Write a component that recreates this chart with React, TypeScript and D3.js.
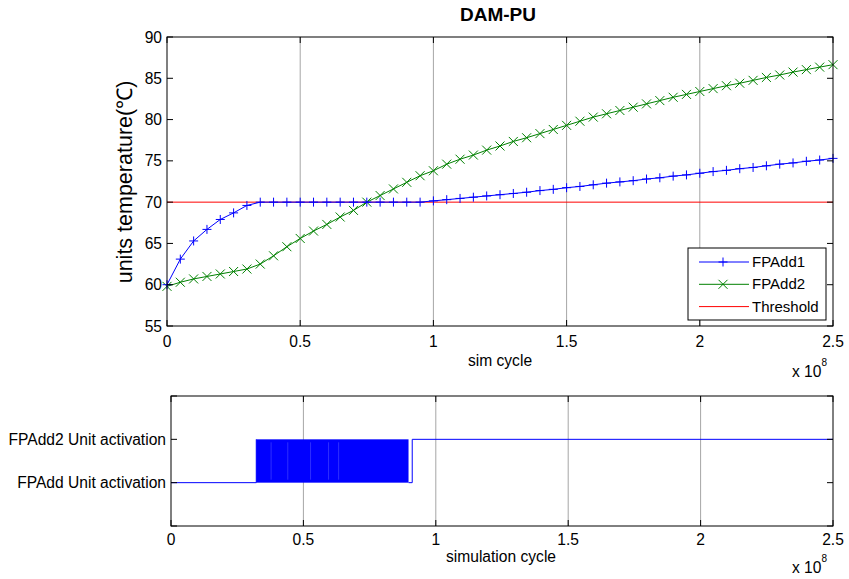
import React from "react";
import * as d3 from "d3";

// sampled every 0.05e8 cycles
const cycles = d3.range(51).map((i) => +(i * 0.05).toFixed(2));

const fpadd1 = [
  60.0, 63.1, 65.3, 66.7, 67.9, 68.7, 69.6, 70.0,
  70.0, 70.0, 70.0, 70.0, 70.0, 70.0, 70.0, 70.0, 70.0, 70.0, 70.0, 70.0,
  70.15, 70.3, 70.45, 70.6, 70.75, 70.9, 71.05, 71.2, 71.4, 71.55, 71.75,
  71.9, 72.1, 72.3, 72.45, 72.6, 72.8, 72.95, 73.15, 73.3, 73.5,
  73.7, 73.85, 74.05, 74.2, 74.4, 74.6, 74.75, 74.95, 75.1, 75.3,
];

const fpadd2 = [
  59.8, 60.3, 60.7, 61.0, 61.3, 61.6, 61.9, 62.5, 63.5, 64.6,
  65.6, 66.5, 67.3, 68.2, 69.0, 70.0, 70.8, 71.6, 72.4, 73.2,
  73.8, 74.6, 75.2, 75.7, 76.3, 76.8, 77.35, 77.8, 78.3, 78.8, 79.3,
  79.8, 80.3, 80.7, 81.1, 81.5, 81.9, 82.3, 82.7, 83.05, 83.4,
  83.75, 84.1, 84.4, 84.75, 85.1, 85.4, 85.75, 86.05, 86.35, 86.65,
];

const threshold = 70;

const xTicks = [0, 0.5, 1, 1.5, 2, 2.5];
const xGrid = [0.5, 1, 1.5, 2];
const yTicks = [55, 60, 65, 70, 75, 80, 85, 90];

// activation trace: 0 = FPAdd, 1 = FPAdd2
const activationLabels = ["FPAdd Unit activation", "FPAdd2 Unit activation"];
const activationTicks = [-1, 0, 1, 2];
const toggleStart = 0.322; // dense switching begins
const toggleEnd = 0.897; // dense switching ends
const toggleGaps = [0.378, 0.441, 0.527, 0.595, 0.633];
const lastSwitch = 0.911; // stays on FPAdd2 afterwards

const legendItems = [
  { name: "FPAdd1", color: "#0000ff", marker: "plus" },
  { name: "FPAdd2", color: "#008000", marker: "cross" },
  { name: "Threshold", color: "#ff0000", marker: "none" },
];

const font = "'Liberation Sans', Arial, sans-serif";
const FS = 15.6;
const TL = 6; // tick length

const Marker = ({ type, x, y, color }) => {
  const s = 4.5;
  if (type === "plus")
    return (
      <path d={`M${x - s},${y}H${x + s}M${x},${y - s}V${y + s}`} stroke={color} strokeWidth={1} />
    );
  if (type === "cross")
    return (
      <path
        d={`M${x - s},${y - s}L${x + s},${y + s}M${x - s},${y + s}L${x + s},${y - s}`}
        stroke={color}
        strokeWidth={1}
      />
    );
  return null;
};

const Exponent = ({ x, y }) => (
  <text x={x} y={y} fontSize={FS} fontFamily={font} textAnchor="end">
    x 10
    <tspan dy={-11} fontSize={10}>
      8
    </tspan>
  </text>
);

export default function App() {
  // top plot
  const x1 = d3.scaleLinear().domain([0, 2.5]).range([167, 833]);
  const y1 = d3.scaleLinear().domain([55, 90]).range([326, 37]);
  // bottom plot
  const x2 = d3.scaleLinear().domain([0, 2.5]).range([171, 833]);
  const y2 = d3.scaleLinear().domain([-1, 2]).range([526, 396]);

  const line1 = d3
    .line<number>()
    .x((_, i) => x1(cycles[i]))
    .y((d) => y1(d));

  const line2 = d3
    .line<[number, number]>()
    .x((d) => x2(d[0]))
    .y((d) => y2(d[1]));

  const stepPath = line2([
    [0, 0],
    [toggleStart, 0],
    [toggleStart, 1],
  ]);
  const tailPath = line2([
    [toggleEnd, 0],
    [lastSwitch, 0],
    [lastSwitch, 1],
    [2.5, 1],
  ]);

  return (
    <svg width={849} height={579} style={{ position: "absolute", left: 0, top: 0 }}>
      <rect width={849} height={579} fill="#fff" />

      {/* ---------- top plot ---------- */}
      <text x={498} y={21} fontSize={19} fontWeight="bold" fontFamily={font} textAnchor="middle">
        DAM-PU
      </text>
      {xGrid.map((t) => (
        <line key={t} x1={x1(t)} x2={x1(t)} y1={37} y2={326} stroke="#a6a6a6" />
      ))}
      <line x1={x1(0)} x2={x1(2.5)} y1={y1(threshold)} y2={y1(threshold)} stroke="#ff0000" />
      <path d={line1(fpadd2)} fill="none" stroke="#008000" />
      {fpadd2.map((v, i) => (
        <Marker key={i} type="cross" x={x1(cycles[i])} y={y1(v)} color="#008000" />
      ))}
      <path d={line1(fpadd1)} fill="none" stroke="#0000ff" />
      {fpadd1.map((v, i) => (
        <Marker key={i} type="plus" x={x1(cycles[i])} y={y1(v)} color="#0000ff" />
      ))}

      <rect x={167} y={37} width={666} height={289} fill="none" stroke="#000" />
      {yTicks.map((t) => (
        <g key={t}>
          <line x1={167} x2={167 + TL} y1={y1(t)} y2={y1(t)} stroke="#000" />
          <line x1={833} x2={833 - TL} y1={y1(t)} y2={y1(t)} stroke="#000" />
          <text x={162} y={y1(t) + 5.5} fontSize={FS} fontFamily={font} textAnchor="end">
            {t}
          </text>
        </g>
      ))}
      {xTicks.map((t) => (
        <g key={t}>
          <line x1={x1(t)} x2={x1(t)} y1={326} y2={326 - TL} stroke="#000" />
          <line x1={x1(t)} x2={x1(t)} y1={37} y2={37 + TL} stroke="#000" />
          <text x={x1(t)} y={347} fontSize={FS} fontFamily={font} textAnchor="middle">
            {t}
          </text>
        </g>
      ))}
      <text x={500} y={366} fontSize={FS} fontFamily={font} textAnchor="middle">
        sim cycle
      </text>
      <Exponent x={827} y={377} />
      <text
        transform="translate(132,182) rotate(-90)"
        fontSize={21.5}
        fontFamily={font}
        textAnchor="middle"
      >
        units temperature(℃)
      </text>

      {/* legend */}
      <rect x={688} y={248} width={138} height={72} fill="#fff" stroke="#000" />
      {legendItems.map((d, i) => {
        const ly = 262 + i * 22.3;
        return (
          <g key={d.name}>
            <line x1={699} x2={749} y1={ly} y2={ly} stroke={d.color} />
            <Marker type={d.marker} x={723} y={ly} color={d.color} />
            <text x={752} y={ly + 5} fontSize={15} fontFamily={font}>
              {d.name}
            </text>
          </g>
        );
      })}

      {/* ---------- bottom plot ---------- */}
      {xGrid.map((t) => (
        <line key={t} x1={x2(t)} x2={x2(t)} y1={396} y2={526} stroke="#a6a6a6" />
      ))}
      <rect
        x={x2(toggleStart)}
        y={y2(1)}
        width={x2(toggleEnd) - x2(toggleStart)}
        height={y2(0) - y2(1)}
        fill="#0000ff"
      />
      {toggleGaps.map((g) => (
        <line key={g} x1={x2(g)} x2={x2(g)} y1={y2(1) + 3} y2={y2(0) - 3} stroke="#4d4dff" strokeWidth={0.6} />
      ))}
      <path d={stepPath} fill="none" stroke="#0000ff" />
      <path d={tailPath} fill="none" stroke="#0000ff" />

      <rect x={171} y={396} width={662} height={130} fill="none" stroke="#000" />
      {activationTicks.map((t) => (
        <g key={t}>
          <line x1={171} x2={171 + TL} y1={y2(t)} y2={y2(t)} stroke="#000" />
          <line x1={833} x2={833 - TL} y1={y2(t)} y2={y2(t)} stroke="#000" />
        </g>
      ))}
      {activationLabels.map((l, i) => (
        <text key={l} x={166} y={y2(i) + 5.5} fontSize={FS} fontFamily={font} textAnchor="end">
          {l}
        </text>
      ))}
      {xTicks.map((t) => (
        <g key={t}>
          <line x1={x2(t)} x2={x2(t)} y1={526} y2={526 - TL} stroke="#000" />
          <line x1={x2(t)} x2={x2(t)} y1={396} y2={396 + TL} stroke="#000" />
          <text x={x2(t)} y={545} fontSize={FS} fontFamily={font} textAnchor="middle">
            {t}
          </text>
        </g>
      ))}
      <text x={501} y={562} fontSize={FS} fontFamily={font} textAnchor="middle">
        simulation cycle
      </text>
      <Exponent x={827} y={573} />
    </svg>
  );
}
